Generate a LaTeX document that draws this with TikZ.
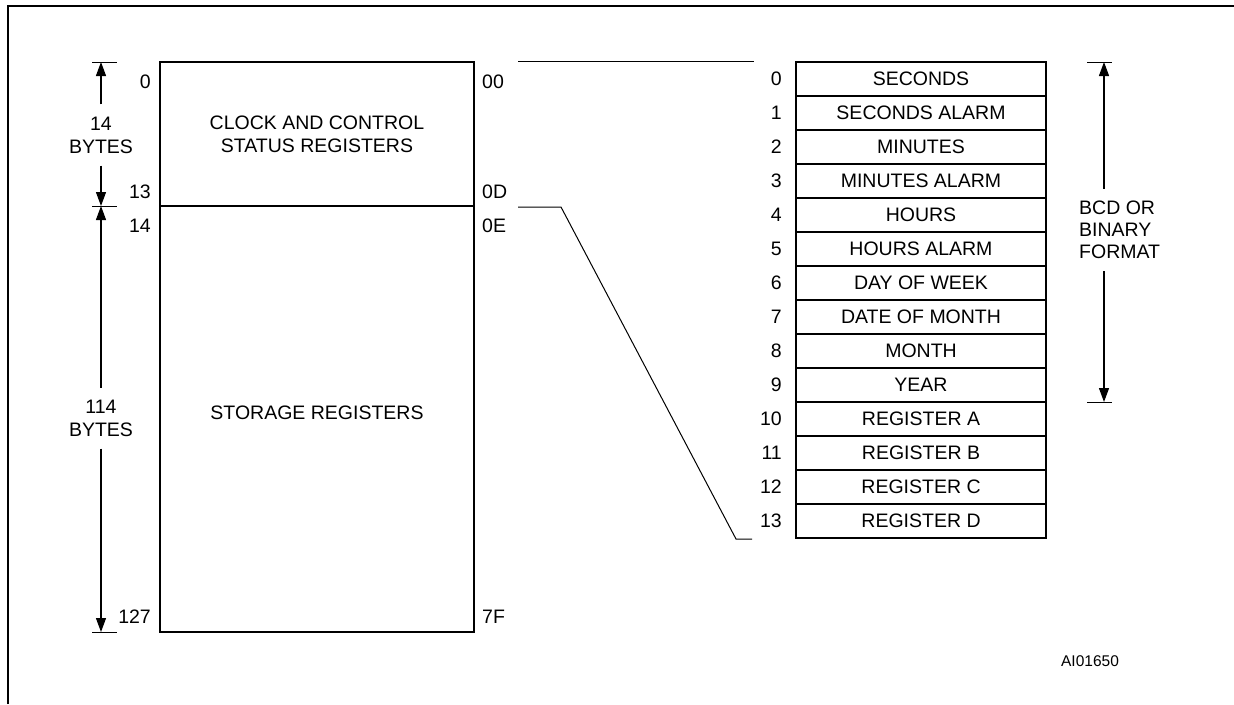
\documentclass[tikz,border=0pt]{standalone}
\usepackage{fontspec}
\setmainfont{Liberation Sans}
\usetikzlibrary{arrows.meta, positioning, calc}

\begin{document}
\begin{tikzpicture}[
  x=1pt, y=-1pt,
  font=\fontsize{19.5}{23}\selectfont,
  area/.style={draw, line width=2pt, minimum width=314pt, inner sep=0pt, align=center},
  row/.style={draw, line width=2pt, minimum width=250pt, minimum height=34pt, inner sep=0pt},
  addr/.style={inner sep=0pt},
  dimlbl/.style={inner sep=0pt, align=center},
  tick/.style={line width=1pt},
  arr/.style={-{Triangle[length=14pt,width=10pt]}, line width=1.2pt, shorten <=12pt},
  link/.style={line width=1pt}
]
\useasboundingbox (0,0) rectangle (1234,704);
% frame
\draw[line width=2.4pt] (8,704) -- (8,6) -- (1234,6);

% memory map
\node[area, minimum height=144pt] (clk) at (317,134) {CLOCK AND CONTROL\\STATUS REGISTERS};
\node[area, minimum height=426pt] (stor) at (317,419) {};
\node (storlbl) at (317,413) {STORAGE REGISTERS};

\node[addr, anchor=east] (l0) at (151,82) {0};
\node[addr, anchor=east] (l13) at (151,192) {13};
\node[addr, anchor=east] (l14) at (151,226) {14};
\node[addr, anchor=east] (l127) at (151,617) {127};
\node[addr, anchor=west] (h00) at (482,82) {00};
\node[addr, anchor=west] (h0D) at (482,192) {0D};
\node[addr, anchor=west] (h0E) at (482,226) {0E};
\node[addr, anchor=west] (h7F) at (482,617) {7F};

% byte counts
\coordinate (t0) at (101,62);
\coordinate (t1) at (101,206);
\coordinate (t2) at (101,632);
\foreach \t in {t0,t1,t2}
  \draw[tick] (\t) +(-9,0) -- +(16,0);
\node[dimlbl] (d14) at (101,135) {14\\BYTES};
\node[dimlbl] (d114) at (101,418) {114\\BYTES};
\draw[arr] (d14) -- (t0);
\draw[arr] (d14) -- (t1);
\draw[arr] (d114) -- (t1);
\draw[arr] (d114) -- (t2);

% clock registers
\foreach \i/\t in {0/SECONDS, 1/SECONDS ALARM, 2/MINUTES, 3/MINUTES ALARM,
  4/HOURS, 5/HOURS ALARM, 6/DAY OF WEEK, 7/DATE OF MONTH, 8/MONTH,
  9/YEAR, 10/REGISTER A, 11/REGISTER B, 12/REGISTER C, 13/REGISTER D} {
  \node[row] (r\i) at (921,{79+34*\i}) {\t};
  \node[addr, anchor=east] (n\i) at ($(r\i.west)+(-13,0)$) {\i};
}

% zoom lines
\draw[link] ($(clk.north east)+(43,0)$) -- ($(r0.north west)+(-41,0)$);
\draw[link] ($(clk.south east)+(43,0)$) -- ++(43,0)
  -- ($(r13.south west)+(-59,0)$) -- ($(r13.south west)+(-43,0)$);

% format range
\coordinate (f0) at (1104,62);
\coordinate (f1) at (1104,402);
\foreach \t in {f0,f1}
  \draw[tick] (\t) +(-17,0) -- +(8,0);
\node[inner sep=0pt, align=left, anchor=west, font=\fontsize{19.5}{22}\selectfont] (fmt) at (1079,230) {BCD OR\\BINARY\\FORMAT};
\draw[arr] (fmt.north -| f0) -- (f0);
\draw[arr] (fmt.south -| f1) -- (f1);

\node[font=\fontsize{15.5}{18}\selectfont] (fig) at (1090,661) {AI01650};
\end{tikzpicture}
\end{document}
